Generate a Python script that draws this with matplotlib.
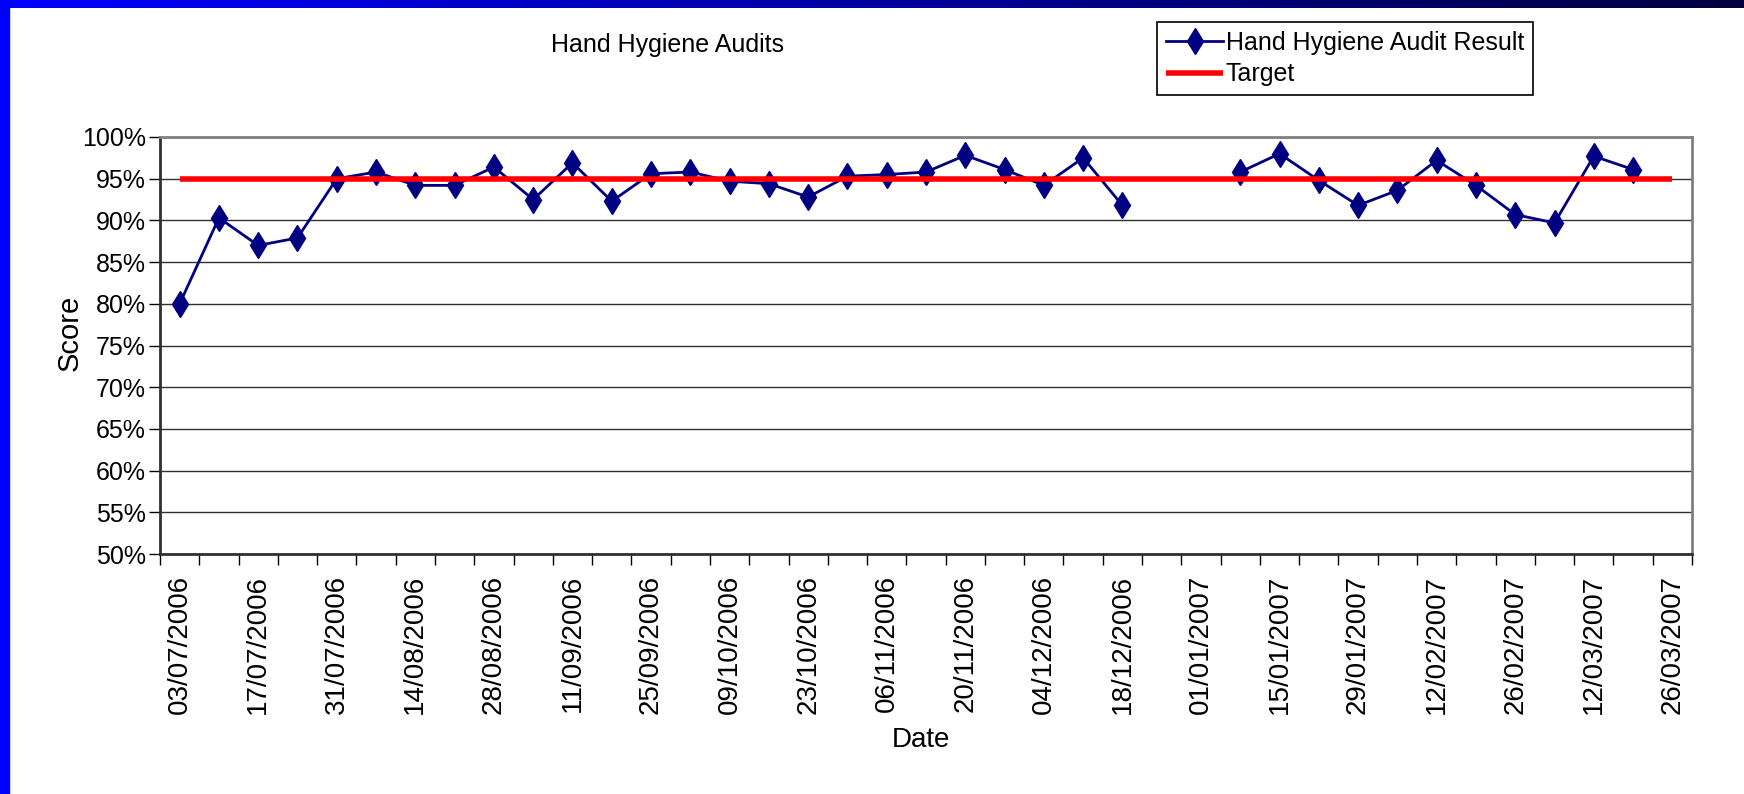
import numpy as np
import pandas as pd
import matplotlib
matplotlib.use('Agg')
import matplotlib.pyplot as plt
from matplotlib.patches import Rectangle

plt.rcParams['font.family'] = ['Liberation Sans', 'DejaVu Sans']

# Weekly audit dates (category axis), 03/07/2006 .. 26/03/2007
dates = pd.date_range('2006-07-03', '2007-03-26', freq='7D')
date_labels = [d.strftime('%d/%m/%Y') for d in dates]

# Audit result per week (%); no audits in the two holiday weeks
scores = [80.0, 90.3, 87.0, 87.9, 95.0, 95.8, 94.2, 94.2, 96.4, 92.5,
          96.9, 92.3, 95.6, 95.8, 94.7, 94.4, 92.8, 95.3, 95.5, 95.8,
          97.8, 96.1, 94.2, 97.5, 91.8, np.nan, np.nan, 95.8, 98.0, 94.8,
          91.8, 93.6, 97.2, 94.2, 90.7, 89.7, 97.7, 96.1]
target = [95.0] * len(dates)

y_ticks = list(range(50, 101, 5))

W, H = 1744, 794
fig = plt.figure(figsize=(W / 100, H / 100), dpi=100)
fig.patch.set_facecolor('white')

# slide decoration: blue bar on the left, gradient bar on top
fig.patches.append(Rectangle((0, 0), 9 / W, 1, transform=fig.transFigure,
                             color='#0000ff', zorder=0))
bar = fig.add_axes([0, 1 - 8 / H, 1, 8 / H])
grad = np.linspace(0, 1, 256)
cols = np.zeros((1, 256, 3))
cols[0, :, 2] = 1.0 - 0.75 * grad
bar.imshow(cols, aspect='auto', extent=[0, 1, 0, 1])
bar.axis('off')

ax = fig.add_axes([160 / W, 1 - 554 / H, 1532 / W, 417 / H])

x_pos = np.arange(len(dates))
ax.plot(x_pos[:len(scores)], scores, color='#000080', linewidth=2,
        marker='d', markersize=13, markerfacecolor='#000080',
        markeredgecolor='#000080', label='Hand Hygiene Audit Result', zorder=3)
ax.plot(x_pos, target, color='#ff0000', linewidth=4,
        label='Target', zorder=4, solid_capstyle='butt')

ax.set_xlim(-0.5, len(dates) - 0.5)
ax.set_ylim(50, 100)

ax.set_yticks(y_ticks)
ax.set_yticklabels([f'{v}%' for v in y_ticks], fontsize=18)
ax.yaxis.grid(True, color='#303030', linewidth=1)
ax.set_axisbelow(True)

# tick marks between categories, labels every second week
ax.set_xticks(np.arange(-0.5, len(dates), 1), minor=True)
ax.set_xticks(x_pos[::2])
ax.set_xticklabels(date_labels[::2], rotation=90, fontsize=20)
ax.tick_params(axis='x', which='major', length=0, pad=15)
ax.tick_params(axis='x', which='minor', length=8, width=1, direction='out')
ax.tick_params(axis='y', length=8, width=1, direction='out', pad=2)

for s in ['top', 'right']:
    ax.spines[s].set_color('#808080')
    ax.spines[s].set_linewidth(2)
for s in ['left', 'bottom']:
    ax.spines[s].set_color('#303030')
    ax.spines[s].set_linewidth(2)

ax.set_xlabel('Date', fontsize=20, va='center')
ax.xaxis.set_label_coords(0.497, -0.446)
ax.set_ylabel('Score', fontsize=21, va='center')
ax.yaxis.set_label_coords(-0.059, 0.53)

ax.set_title('Hand Hygiene Audits', fontsize=18, x=0.331, y=1.22,
             va='center', pad=0)

leg = ax.legend(loc='upper left', bbox_to_anchor=(1157 / W, 1 - 22 / H),
                bbox_transform=fig.transFigure, borderaxespad=0, fontsize=18,
                frameon=True, fancybox=False, edgecolor='black', framealpha=1,
                handlelength=2.3, handletextpad=0.1, labelspacing=0.3,
                borderpad=0.35)
leg.get_frame().set_linewidth(1.2)

fig.savefig('out.png', dpi=100)
